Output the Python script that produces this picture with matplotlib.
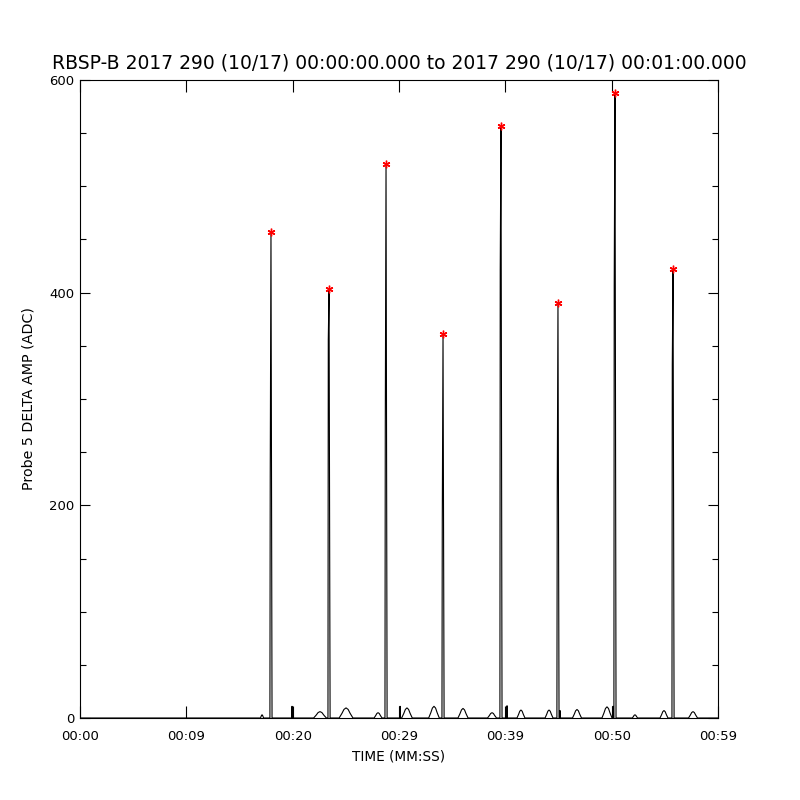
import matplotlib
matplotlib.use("Agg")
import matplotlib.pyplot as plt
import numpy as np

# main pulses (seconds, ADC)
spike_times = [17.96, 23.42, 28.78, 34.14, 39.59, 44.95, 50.31, 55.77]
spike_peaks = [457, 403, 521, 361, 557, 390, 588, 422]
spike_mids = [227, 356, 275, 186, 421, 205, 407, 332]

# small humps between pulses
bump_times = [17.12, 22.57, 25.02, 28.03, 30.75, 33.29, 36.02, 38.75,
              41.47, 44.11, 46.74, 49.56, 52.19, 54.92, 57.65]
bump_heights = [3, 6, 9.5, 5, 9.5, 11, 9, 5, 7.5, 7.5, 8, 10.5, 3, 7, 6]
bump_widths = [0.3, 1.2, 1.3, 0.75, 1.0, 1.0, 0.95, 0.85, 0.75, 0.75,
               0.85, 0.95, 0.5, 0.75, 0.85]

# narrow glitches
glitch_times = [19.94, 30.10, 40.16, 45.14, 50.13]
glitch_heights = [11, 11, 11.5, 7, 11]

xtick_pos = [0, 10, 20, 30, 40, 50, 60]
xtick_labels = ["00:00", "00:09", "00:20", "00:29", "00:39", "00:50", "00:59"]

title = "RBSP-B 2017 290 (10/17) 00:00:00.000 to 2017 290 (10/17) 00:01:00.000"


def build_trace():
    pts = [(0.0, 0.0), (60.0, 0.0)]
    for t, p, m in zip(spike_times, spike_peaks, spike_mids):
        pts += [(t - 0.1, 0), (t - 0.07, m), (t, p), (t + 0.1, 0)]
    offs = [-0.5, -0.3, -0.15, 0, 0.15, 0.3, 0.5]
    prof = [0, 0.45, 0.85, 1, 0.85, 0.45, 0]
    for t, h, w in zip(bump_times, bump_heights, bump_widths):
        pts += [(t + o * w, h * f) for o, f in zip(offs, prof)]
    for t, h in zip(glitch_times, glitch_heights):
        pts += [(t - 0.01, 0), (t, h), (t + 0.01, 0)]
    pts.sort(key=lambda p: p[0])
    return np.array(pts)


trace = build_trace()

plt.rcParams['font.family'] = ['DejaVu Sans']
fig = plt.figure(figsize=(8, 8), dpi=100)
ax = fig.add_axes([0.1, 0.1025, 0.7975, 0.7975])

ax.plot(trace[:, 0], trace[:, 1], color="black", lw=0.8)
ax.plot(spike_times, spike_peaks, linestyle="none", marker=(6, 2, 0),
        markersize=5.5, color="red", markeredgewidth=1.0)

ax.set_xlim(0, 60)
ax.set_ylim(0, 600)
ax.set_xticks(xtick_pos)
ax.set_xticklabels(xtick_labels)
ax.set_yticks([0, 200, 400, 600])
ax.set_yticks(np.arange(0, 601, 50), minor=True)

ax.tick_params(axis="x", which="major", direction="in", length=8.5, width=0.8,
               top=True, pad=9, labelsize=9.5)
ax.tick_params(axis="y", which="major", direction="in", length=7.5, width=0.8,
               right=True, pad=4, labelsize=9.5)
ax.tick_params(axis="y", which="minor", direction="in", length=4, width=0.8,
               right=True)
for s in ax.spines.values():
    s.set_linewidth(0.8)

ax.set_xlabel("TIME (MM:SS)", fontsize=9.8, labelpad=4)
ax.set_ylabel("Probe 5 DELTA AMP (ADC)", fontsize=10.3, labelpad=10)
ax.set_title(title, fontsize=13.5, pad=8)

fig.savefig("out.png", dpi=100)
